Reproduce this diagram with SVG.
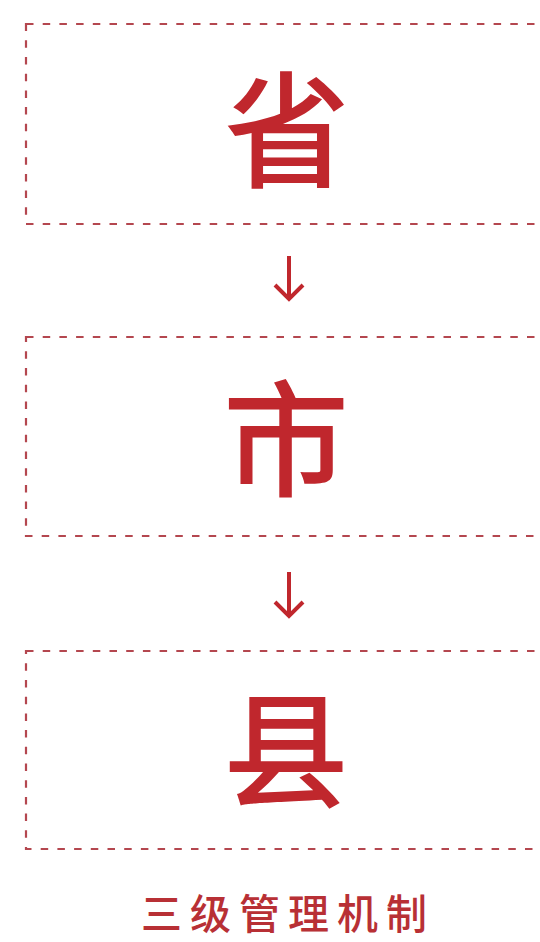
<svg xmlns="http://www.w3.org/2000/svg" width="540" height="942" viewBox="0 0 540 942">
<style>
.box{fill:none;stroke:#b4474f;stroke-width:2.2;stroke-dasharray:7.5 9.2}
.big{font-family:"Noto Sans CJK SC","Noto Sans CJK JP",sans-serif;font-weight:500;font-size:126px;fill:#c0272d;text-anchor:middle}
.cap{font-family:"Noto Sans CJK SC","Noto Sans CJK JP",sans-serif;font-weight:500;font-size:41px;fill:#b83035;text-anchor:middle;letter-spacing:8px}
.arr{fill:none;stroke:#c0272d;stroke-width:4;stroke-linecap:butt;stroke-linejoin:miter}
</style>
<rect width="540" height="942" fill="#ffffff"/>
<g id="node-sheng">
<rect class="box" x="26" y="24" width="530" height="200"/>
<text class="big" x="287" y="178">省</text>
</g>
<g id="node-shi">
<rect class="box" x="26" y="337" width="530" height="199"/>
<text class="big" x="286" y="487">市</text>
</g>
<g id="node-xian">
<rect class="box" x="26" y="651" width="530" height="198"/>
<text class="big" x="286" y="798">县</text>
</g>
<g id="connectors">
<path class="arr" d="M289 256 V299 M275 285 L289 299 L303 285"/>
<path class="arr" d="M289 572 V616 M275 602 L289 616 L303 602"/>
</g>
<g id="caption">
<text class="cap" x="288" y="929">三级管理机制</text>
</g>
</svg>
